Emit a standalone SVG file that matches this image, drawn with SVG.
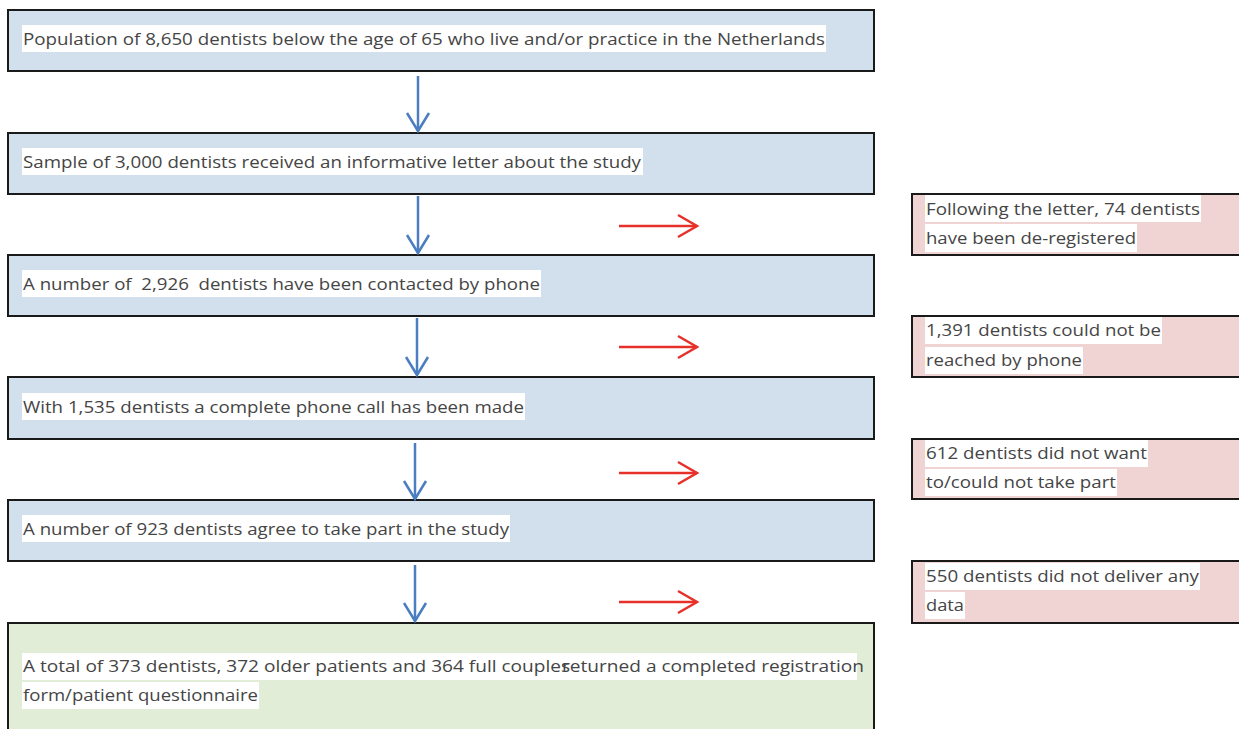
<svg xmlns="http://www.w3.org/2000/svg" width="1239" height="729" viewBox="0 0 1239 729">
<defs>
<style>
.bbox{fill:#D1E0EC;stroke:#1a1a1a;stroke-width:2}
.pbox{fill:#F0D4D4;stroke:#1a1a1a;stroke-width:2}
.gbox{fill:#E2EDD8;stroke:#1a1a1a;stroke-width:2}
.hl{fill:#ffffff}
.t{font-family:"Open Sans","Liberation Sans",sans-serif;font-size:16.5px;fill:#454545}
.ba{stroke:#4A7EC0;stroke-width:2.5;fill:none}
.ra{stroke:#E8302A;stroke-width:2.5;fill:none}
</style>
<marker id="mb" markerUnits="userSpaceOnUse" markerWidth="30" markerHeight="30" viewBox="-22 -15 26 30" refX="0" refY="0" orient="auto">
<path d="M-18,-11 L0,0 L-18,11" fill="none" stroke="#4A7EC0" stroke-width="2.5"/>
</marker>
<marker id="mr" markerUnits="userSpaceOnUse" markerWidth="30" markerHeight="30" viewBox="-22 -15 26 30" refX="0" refY="0" orient="auto">
<path d="M-19,-11 L0,0 L-19,11" fill="none" stroke="#E8302A" stroke-width="2.5"/>
</marker>
</defs>
<rect width="1239" height="729" fill="#ffffff"/>

<g id="n1">
<rect class="bbox" x="8" y="10" width="866" height="61"/>
<rect class="hl" x="22" y="25" width="804" height="27"/>
<text class="t" x="23" y="45" textLength="802" lengthAdjust="spacingAndGlyphs">Population of 8,650 dentists below the age of 65 who live and/or practice in the Netherlands</text>
</g>
<g id="n2">
<rect class="bbox" x="8" y="133" width="866" height="61"/>
<rect class="hl" x="22" y="148" width="621" height="27"/>
<text class="t" x="23" y="168" textLength="618" lengthAdjust="spacingAndGlyphs">Sample of 3,000 dentists received an informative letter about the study</text>
</g>
<g id="n3">
<rect class="bbox" x="8" y="255" width="866" height="61"/>
<rect class="hl" x="22" y="270" width="519" height="27"/>
<text class="t" x="23" y="290" textLength="517" lengthAdjust="spacingAndGlyphs" xml:space="preserve">A number of  2,926  dentists have been contacted by phone</text>
</g>
<g id="n4">
<rect class="bbox" x="8" y="377" width="866" height="62"/>
<rect class="hl" x="22" y="393" width="503" height="27"/>
<text class="t" x="23" y="413" textLength="501" lengthAdjust="spacingAndGlyphs">With 1,535 dentists a complete phone call has been made</text>
</g>
<g id="n5">
<rect class="bbox" x="8" y="500" width="866" height="61"/>
<rect class="hl" x="22" y="515" width="488" height="27"/>
<text class="t" x="23" y="535" textLength="486" lengthAdjust="spacingAndGlyphs">A number of 923 dentists agree to take part in the study</text>
</g>
<g id="n6">
<rect class="gbox" x="8" y="623" width="866" height="110"/>
<rect class="hl" x="22" y="653" width="835" height="27"/>
<rect class="hl" x="22" y="682" width="237" height="27"/>
<text class="t" x="23" y="672" textLength="547" lengthAdjust="spacingAndGlyphs">A total of 373 dentists, 372 older patients and 364 full couples</text>
<text class="t" x="562" y="672" textLength="302" lengthAdjust="spacingAndGlyphs">returned a completed registration</text>
<text class="t" x="23" y="701" textLength="235" lengthAdjust="spacingAndGlyphs">form/patient questionnaire</text>
</g>

<g id="p1">
<rect class="pbox" x="912" y="194" width="332" height="61"/>
<rect class="hl" x="925" y="195" width="276" height="27"/>
<rect class="hl" x="925" y="224" width="212" height="28"/>
<text class="t" x="926" y="215" textLength="274" lengthAdjust="spacingAndGlyphs">Following the letter, 74 dentists</text>
<text class="t" x="926" y="244" textLength="210" lengthAdjust="spacingAndGlyphs">have been de-registered</text>
</g>
<g id="p2">
<rect class="pbox" x="912" y="316" width="332" height="61"/>
<rect class="hl" x="925" y="317" width="237" height="27"/>
<rect class="hl" x="925" y="347" width="158" height="27"/>
<text class="t" x="926" y="336" textLength="235" lengthAdjust="spacingAndGlyphs">1,391 dentists could not be</text>
<text class="t" x="926" y="366" textLength="156" lengthAdjust="spacingAndGlyphs">reached by phone</text>
</g>
<g id="p3">
<rect class="pbox" x="912" y="439" width="332" height="60"/>
<rect class="hl" x="925" y="440" width="223" height="27"/>
<rect class="hl" x="925" y="469" width="192" height="27"/>
<text class="t" x="926" y="459" textLength="221" lengthAdjust="spacingAndGlyphs">612 dentists did not want</text>
<text class="t" x="926" y="488" textLength="190" lengthAdjust="spacingAndGlyphs">to/could not take part</text>
</g>
<g id="p4">
<rect class="pbox" x="912" y="561" width="332" height="62"/>
<rect class="hl" x="925" y="563" width="275" height="27"/>
<rect class="hl" x="925" y="592" width="40" height="27"/>
<text class="t" x="926" y="582" textLength="273" lengthAdjust="spacingAndGlyphs">550 dentists did not deliver any</text>
<text class="t" x="926" y="611" textLength="38" lengthAdjust="spacingAndGlyphs">data</text>
</g>

<g id="connectors">
<line class="ba" x1="418" y1="76" x2="418" y2="131" marker-end="url(#mb)"/>
<line class="ba" x1="418" y1="196" x2="418" y2="253" marker-end="url(#mb)"/>
<line class="ba" x1="417" y1="318" x2="417" y2="375" marker-end="url(#mb)"/>
<line class="ba" x1="415" y1="443" x2="415" y2="499" marker-end="url(#mb)"/>
<line class="ba" x1="415" y1="565" x2="415" y2="621" marker-end="url(#mb)"/>
<line class="ra" x1="619" y1="226" x2="697" y2="226" marker-end="url(#mr)"/>
<line class="ra" x1="619" y1="347" x2="697" y2="347" marker-end="url(#mr)"/>
<line class="ra" x1="619" y1="473" x2="697" y2="473" marker-end="url(#mr)"/>
<line class="ra" x1="619" y1="602" x2="697" y2="602" marker-end="url(#mr)"/>
</g>
</svg>
